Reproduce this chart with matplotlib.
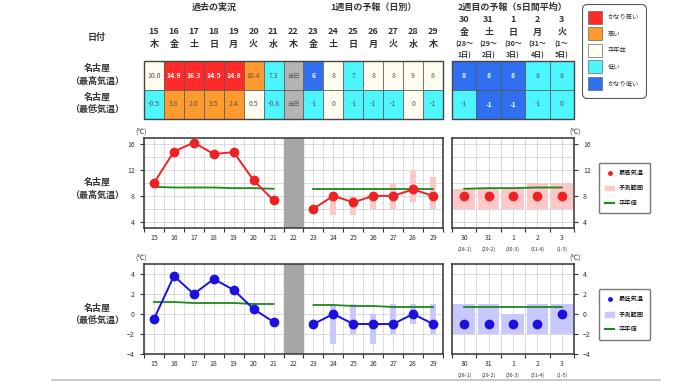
import matplotlib
matplotlib.use("Agg")
import matplotlib.pyplot as plt
from matplotlib.patches import Rectangle, FancyBboxPatch
from matplotlib.lines import Line2D
from matplotlib.transforms import blended_transform_factory
import numpy as np

plt.rcParams['font.family'] = ['Noto Sans CJK JP', 'DejaVu Sans']

# ---- data ----
days1 = list(range(15, 30))
wday1 = ['木', '金', '土', '日', '月', '火', '水', '木', '金', '土', '日', '月', '火', '水', '木']
obs_days = list(range(15, 22))
fc_days = list(range(23, 30))
today = 22

high_obs = [10.0, 14.9, 16.3, 14.5, 14.8, 10.4, 7.3]
high_obs_cls = ['n', 'vh', 'vh', 'vh', 'vh', 'h', 'l']
low_obs = [-0.5, 3.8, 2.0, 3.5, 2.4, 0.5, -0.8]
low_obs_cls = ['l', 'h', 'h', 'h', 'h', 'n', 'l']

high_fc = [6, 8, 7, 8, 8, 9, 8]
high_fc_cls = ['vl', 'n', 'l', 'n', 'n', 'n', 'n']
high_fc_lo = [np.nan, 5, 5, 6, 6, 7, 6]
high_fc_hi = [np.nan, 8.6, 8, 8, 10, 12, 11]
low_fc = [-1, 0, -1, -1, -1, 0, -1]
low_fc_cls = ['l', 'n', 'l', 'l', 'l', 'n', 'l']
low_fc_lo = [np.nan, -3, -2, -3, -2, -1, -2]
low_fc_hi = [np.nan, 1, 1, 0, 1, 1, 1]

w2_day = ['30', '31', '1', '2', '3']
w2_wday = ['金', '土', '日', '月', '火']
w2_from = ['28', '29', '30', '31', '1']
w2_to = ['1', '2', '3', '4', '5']
high_w2 = [8, 8, 8, 8, 8]
high_w2_cls = ['vl', 'vl', 'vl', 'l', 'l']
high_w2_lo = [6, 6, 6, 6, 6]
high_w2_hi = [9, 9, 9, 10, 10]
low_w2 = [-1, -1, -1, -1, 0]
low_w2_cls = ['l', 'vl', 'vl', 'l', 'l']
low_w2_lo = [-2, -2, -2, -2, -2]
low_w2_hi = [1, 1, 0, 1, 1]

high_norm_obs = [9.4, 9.3, 9.3, 9.3, 9.2, 9.2, 9.1]
high_norm_fc = [9.1, 9.1, 9.1, 9.1, 9.1, 9.1, 9.1]
high_norm_w2 = [9.1, 9.2, 9.2, 9.3, 9.3]
low_norm_obs = [1.2, 1.2, 1.1, 1.1, 1.1, 1.0, 1.0]
low_norm_fc = [0.9, 0.9, 0.8, 0.8, 0.7, 0.7, 0.7]
low_norm_w2 = [0.7, 0.7, 0.7, 0.7, 0.7]

cls_color = {'vh': '#ff2a2a', 'h': '#ff9a2e', 'n': '#fffcf0', 'l': '#4df5ff', 'vl': '#2f6ff0'}
cls_label = [('vh', 'かなり高い'), ('h', '高い'), ('n', '平年並'), ('l', '低い'), ('vl', 'かなり低い')]

W, H = 680, 382
fig = plt.figure(figsize=(W / 100, H / 100), dpi=100)
TXT = '#333333'


def ax_px(x0, y0, x1, y1):
    return fig.add_axes([x0 / W, 1 - y1 / H, (x1 - x0) / W, (y1 - y0) / H])


def fy(ypx):
    return 1 - ypx / H


# ---- table ----
def cell(ax, x, row, val, cls, fmt):
    ax.add_patch(Rectangle((x - 0.5, row), 1, 1, facecolor=cls_color[cls],
                           edgecolor='#555555', lw=0.5))
    white = cls in ('vh', 'vl')
    ax.text(x, row + 0.5, fmt.format(val), ha='center', va='center', fontsize=5,
            color='white' if white else '#555555', fontweight='bold' if white else 'normal')


tab1 = ax_px(144, 61, 443, 119)
tab1.set_xlim(14.5, 29.5)
tab1.set_ylim(2, 0)
tab1.axis('off')
for d, v, c in zip(obs_days, high_obs, high_obs_cls):
    cell(tab1, d, 0, v, c, '{:.1f}')
for d, v, c in zip(obs_days, low_obs, low_obs_cls):
    cell(tab1, d, 1, v, c, '{:.1f}')
for d, v, c in zip(fc_days, high_fc, high_fc_cls):
    cell(tab1, d, 0, v, c, '{}')
for d, v, c in zip(fc_days, low_fc, low_fc_cls):
    cell(tab1, d, 1, v, c, '{}')
for r in (0, 1):
    tab1.add_patch(Rectangle((today - 0.5, r), 1, 1, facecolor='#b4b4b4', edgecolor='#555555', lw=0.5))
    tab1.text(today, r + 0.5, '当日', ha='center', va='center', fontsize=4.5, color='#555555')
tab1.add_patch(Rectangle((14.5, 0), 15, 2, fill=False, edgecolor='#444444', lw=1.0, clip_on=False))

tr1 = blended_transform_factory(tab1.transData, fig.transFigure)
for d, wd in zip(days1, wday1):
    tab1.text(d, fy(31), str(d), transform=tr1, ha='center', va='center', fontsize=6.5,
              fontweight='bold', color=TXT)
    tab1.text(d, fy(44), wd, transform=tr1, ha='center', va='center', fontsize=6.5,
              fontweight='bold', color=TXT)
tab1.text(18, fy(7), '過去の実況', transform=tr1, ha='center', va='center', fontsize=6.5,
          fontweight='bold', color=TXT)
tab1.text(26, fy(7), '1週目の予報（日別）', transform=tr1, ha='center', va='center', fontsize=6.5,
          fontweight='bold', color=TXT)

tab2 = ax_px(452, 61, 574, 119)
tab2.set_xlim(-0.5, 4.5)
tab2.set_ylim(2, 0)
tab2.axis('off')
for i in range(5):
    cell(tab2, i, 0, high_w2[i], high_w2_cls[i], '{}')
    cell(tab2, i, 1, low_w2[i], low_w2_cls[i], '{}')
tab2.add_patch(Rectangle((-0.5, 0), 5, 2, fill=False, edgecolor='#444444', lw=1.0, clip_on=False))
tr2 = blended_transform_factory(tab2.transData, fig.transFigure)
for i in range(5):
    tab2.text(i, fy(19), w2_day[i], transform=tr2, ha='center', va='center', fontsize=6.5,
              fontweight='bold', color=TXT)
    tab2.text(i, fy(32), w2_wday[i], transform=tr2, ha='center', va='center', fontsize=6.5,
              fontweight='bold', color=TXT)
    tab2.text(i, fy(44), '(' + w2_from[i] + '～', transform=tr2, ha='center', va='center',
              fontsize=5, fontweight='bold', color=TXT)
    tab2.text(i, fy(55), w2_to[i] + '日)', transform=tr2, ha='center', va='center',
              fontsize=5, fontweight='bold', color=TXT)
tab2.text(2, fy(7), '2週目の予報（5日間平均）', transform=tr2, ha='center', va='center',
          fontsize=6.5, fontweight='bold', color=TXT)

fig.text(97 / W, fy(37), '日付', ha='center', va='center', fontsize=6.5, fontweight='bold', color=TXT)
for y0, name in ((68, '名古屋'), (81, '（最高気温）'), (97, '名古屋'), (110, '（最低気温）'),
                 (182, '名古屋'), (195, '（最高気温）'), (308, '名古屋'), (321, '（最低気温）')):
    fig.text(97 / W, fy(y0), name, ha='center', va='center', fontsize=6.5, fontweight='bold', color=TXT)

# color legend
lax = ax_px(582, 4, 647, 99)
lax.set_xlim(0, 65)
lax.set_ylim(95, 0)
lax.axis('off')
lax.add_patch(FancyBboxPatch((0.5, 0.5), 64, 94, boxstyle='round,pad=0,rounding_size=5',
                             facecolor='white', edgecolor='#555555', lw=0.8))
for k, (c, lab) in enumerate(cls_label):
    yc = 13 + k * 16.5
    lax.add_patch(Rectangle((6, yc - 6.5), 14, 13, facecolor=cls_color[c], edgecolor='#666666', lw=0.5))
    lax.text(26, yc, lab, va='center', ha='left', fontsize=4.5, color=TXT)


# ---- charts ----
def style(ax, major, minor, right=False):
    ax.set_yticks(major)
    ax.set_yticks(minor, minor=True)
    ax.tick_params(axis='y', which='major', labelsize=5, length=3, colors=TXT,
                   left=not right, labelleft=not right, right=right, labelright=right)
    ax.tick_params(axis='y', which='minor', length=0)
    ax.tick_params(axis='x', which='major', length=3, colors=TXT, labelbottom=False)
    ax.tick_params(axis='x', which='minor', length=0, labelsize=5, colors=TXT, pad=4)
    ax.grid(True, which='both', color='#d4d4d4', lw=0.6)
    ax.set_axisbelow(True)
    for s in ax.spines.values():
        s.set_color('#333333')
        s.set_linewidth(1.1)


def chart(y0, y1, ylim, major, minor, obs, norm_obs, fc, fc_lo, fc_hi, norm_fc,
          w2, w2_lo, w2_hi, norm_w2, col, band, mlabel, lg_y0, lg_y1):
    a1 = ax_px(144, y0, 443, y1)
    a1.set_xlim(14.5, 29.5)
    a1.set_ylim(*ylim)
    a1.axvspan(21.5, 22.5, color='#a6a6a6', zorder=1)
    a1.set_xticks(np.arange(14.5, 30, 1))
    a1.set_xticks(days1, minor=True)
    a1.set_xticklabels([str(d) for d in days1], minor=True)
    style(a1, major, minor)
    lo = np.array(fc_lo, dtype=float)
    hi = np.array(fc_hi, dtype=float)
    a1.bar(fc_days, hi - lo, bottom=lo, width=0.3, color=band, zorder=2)
    a1.plot(obs_days, norm_obs, color='#1a8a1a', lw=1.3, zorder=3)
    a1.plot(fc_days, norm_fc, color='#1a8a1a', lw=1.3, zorder=3)
    a1.plot(obs_days, obs, color=col, lw=1.4, marker='o', ms=6, zorder=4)
    a1.plot(fc_days, fc, color=col, lw=1.4, marker='o', ms=6, zorder=4)
    a1.text(-0.01, 1.02, '(℃)', transform=a1.transAxes, fontsize=5, ha='center', va='bottom', color=TXT)

    a2 = ax_px(452, y0, 574, y1)
    a2.set_xlim(-0.5, 4.5)
    a2.set_ylim(*ylim)
    a2.set_xticks(np.arange(-0.5, 5, 1))
    a2.set_xticks(range(5), minor=True)
    a2.set_xticklabels(w2_day, minor=True)
    style(a2, major, minor, right=True)
    x2 = np.arange(5)
    a2.bar(x2, np.array(w2_hi) - np.array(w2_lo), bottom=w2_lo, width=0.88, color=band, zorder=2)
    a2.plot(x2, norm_w2, color='#1a8a1a', lw=1.3, zorder=3)
    a2.plot(x2, w2, color=col, lw=0, marker='o', ms=6, zorder=4)
    tr = blended_transform_factory(a2.transData, fig.transFigure)
    for i in range(5):
        a2.text(i, fy(y1 + 21), '(' + w2_from[i] + '-' + w2_to[i] + ')', transform=tr,
                ha='center', va='center', fontsize=3.8, color=TXT)
    a2.text(1.01, 1.02, '(℃)', transform=a2.transAxes, fontsize=5, ha='center', va='bottom', color=TXT)

    handles = [Line2D([], [], color=col, marker='o', ms=2.5, lw=0),
               Rectangle((0, 0), 1, 1, color=band),
               Line2D([], [], color='#1a8a1a', lw=1.5)]
    fig.legend(handles, [mlabel, '予測範囲', '平年値'], loc='center',
               bbox_to_anchor=(597 / W, fy(lg_y1), 55 / W, (lg_y1 - lg_y0) / H),
               fontsize=4.5, frameon=True, fancybox=True, edgecolor='#555555',
               handlelength=1.4, handletextpad=0.8, labelspacing=1.1, borderpad=1.0)


chart(138, 228, (3, 17), [4, 8, 12, 16], np.arange(4, 17, 2), high_obs, high_norm_obs,
      high_fc, high_fc_lo, high_fc_hi, high_norm_fc, high_w2, high_w2_lo, high_w2_hi,
      high_norm_w2, '#ee2222', '#ffc8c8', '最高気温', 159, 217)
chart(264, 354, (-4, 5), [-4, -2, 0, 2, 4], [-4, -2, 0, 2, 4], low_obs, low_norm_obs,
      low_fc, low_fc_lo, low_fc_hi, low_norm_fc, low_w2, low_w2_lo, low_w2_hi,
      low_norm_w2, '#1a10e0', '#c8c8ff', '最低気温', 286, 343)

fig.add_artist(Line2D([52 / W, 660 / W], [fy(380), fy(380)], color='#c0c0c0', lw=1.2))

fig.savefig('out.png', dpi=100)
